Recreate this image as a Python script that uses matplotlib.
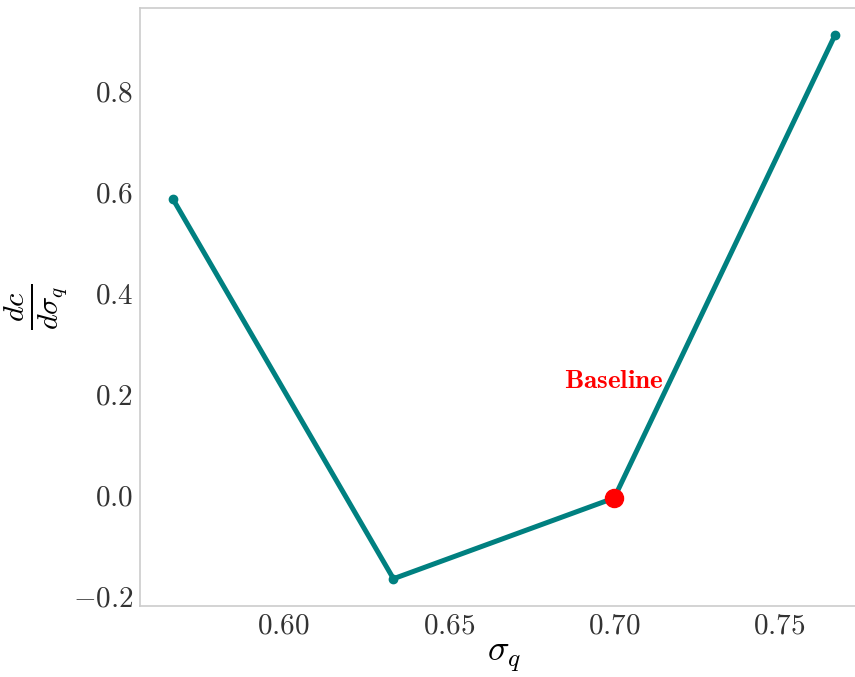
import matplotlib
matplotlib.use("Agg")
import matplotlib.pyplot as plt

sigma_q = [0.5667, 0.6333, 0.7000, 0.7667]
dc_dsigma = [0.586, -0.166, -0.006, 0.911]
baseline_x = 0.7000
baseline_y = -0.006

plt.rcParams["mathtext.fontset"] = "cm"
plt.rcParams["font.family"] = "serif"
plt.rcParams["font.serif"] = ["cmr10"]
plt.rcParams["axes.formatter.use_mathtext"] = True

fig = plt.figure(figsize=(8.55, 6.77), dpi=100)
ax = fig.add_axes([0.1637, 0.105, 0.8515, 0.883])

ax.plot(sigma_q, dc_dsigma, color="teal", linewidth=3.6, marker="o", markersize=6)
ax.plot([baseline_x], [baseline_y], "o", color="red", markersize=13)
ax.text(baseline_x, 0.225, r"$\mathbf{Baseline}$", color="red", fontsize=19.5,
        ha="center", va="center")

ax.set_xticks([0.60, 0.65, 0.70, 0.75])
ax.set_yticks([-0.2, 0.0, 0.2, 0.4, 0.6, 0.8])
ax.tick_params(labelsize=21, length=0, colors="#333333", pad=5)
for s in ax.spines.values():
    s.set_color("#cccccc")
    s.set_linewidth(1.2)

ax.set_xlabel(r"$\sigma_q$", fontsize=26, labelpad=2)
ax.set_ylabel(r"$\frac{dc}{d\sigma_q}$", fontsize=31, labelpad=2)

fig.savefig("out.png", dpi=100)
